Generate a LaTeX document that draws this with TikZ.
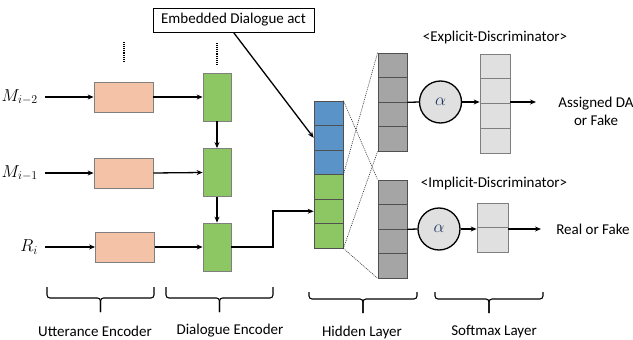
\documentclass[tikz,border=0pt]{standalone}
\usepackage{fontspec}
\setmainfont{Carlito}
\usetikzlibrary{arrows.meta,calc}
\definecolor{pinkf}{HTML}{F4C2A6}
\definecolor{greenf}{HTML}{8CC764}
\definecolor{bluef}{HTML}{5A93C8}
\definecolor{darkg}{HTML}{A6A5A6}
\definecolor{lightg}{HTML}{E0E0E0}
\definecolor{edgeg}{HTML}{7F7F7F}
\definecolor{edged}{HTML}{505050}
\definecolor{alphac}{HTML}{203864}
\tikzset{
  arr/.style={line width=1.3pt,-{Stealth[length=6pt,width=5pt]}},
  plain/.style={line width=1.3pt},
  encbox/.style={draw=edgeg,line width=0.8pt,fill=pinkf,minimum width=59pt,minimum height=30pt,inner sep=0pt},
  dlgbox/.style={draw=edgeg,line width=0.8pt,fill=greenf,minimum width=28pt,minimum height=48pt,inner sep=0pt},
  cell/.style={draw=edged,line width=0.7pt,minimum width=29pt,minimum height=24.5pt,inner sep=0pt},
  alphanode/.style={circle,draw=black,line width=1.3pt,fill=lightg,minimum size=42pt,inner sep=0pt,text=alphac,font=\fontsize{17}{20}\selectfont},
  dots/.style={line width=1.4pt,dash pattern=on 0.9pt off 1pt},
  dotline/.style={line width=0.6pt,dash pattern=on 1pt off 1pt,draw=black!80},
  bracestyle/.style={line width=1.1pt,rounded corners=3pt},
  lbl/.style={inner sep=2pt},
  mlbl/.style={inner sep=3pt,font=\fontsize{18}{20}\selectfont}
}
\def\mybrace#1#2#3#4#5{%
  \pgfmathsetmacro\bcx{(#1+#2)/2}%
  \draw[bracestyle] (#1,#3) |- (\bcx,#4) -- (\bcx,#5);
  \draw[bracestyle] (#2,#3) |- (\bcx,#4) -- (\bcx,#5);}
\begin{document}
\begin{tikzpicture}[x=1pt,y=-1pt,font=\fontsize{15}{18}\selectfont]
\path[use as bounding box] (0,0) rectangle (633,340);

% embedded dialogue act box
\node[draw=black,line width=0.8pt,fill=white,minimum width=161pt,minimum height=24pt,inner sep=0pt] (emb) at (233.5,20) {Embedded Dialogue act};

% input labels
\node[mlbl,anchor=east] (m1) at (41,97) {$M_{i-2}$};
\node[mlbl,anchor=east] (m2) at (41,173) {$M_{i-1}$};
\node[mlbl,anchor=east] (m3) at (41,247) {$R_i$};

% utterance encoders
\node[encbox] (p1) at (123.5,97) {};
\node[encbox] (p2) at (123.5,173) {};
\node[encbox] (p3) at (125,247) {};

% dialogue encoders
\node[dlgbox] (d1) at (217,97) {};
\node[dlgbox] (d2) at (217,172.5) {};
\node[dlgbox] (d3) at (217,247) {};

% vertical dots
\draw[dots] (124,42) -- (124,62);
\draw[dots] (217,43) -- (217,64);

% arrows in encoders
\draw[arr] (m1.east |- p1.west) ++(4,0) -- (p1.west);
\draw[arr] (m2.east |- p2.west) ++(4,0) -- (p2.west);
\draw[arr] (m3.east |- p3.west) ++(4,0) -- (p3.west);
\draw[arr] (p1.east) -- (d1.west);
\draw[arr] (p2.east) -- (d2.west);
\draw[arr] (p3.east) -- (d3.west);
\draw[arr] (d1.south) -- (d2.north);
\draw[arr] (d2.south) -- (d3.north);

% hidden concatenation stack
\foreach \k in {1,2,3} \node[cell,fill=bluef] (h\k) at (328.5,{101+12.25+24.5*(\k-1)}) {};
\foreach \k in {4,5,6} \node[cell,fill=greenf] (h\k) at (328.5,{101+12.25+24.5*(\k-1)}) {};

\draw[arr] (emb.south) -- (h2.west);
\draw[arr,line width=1.6pt] (d3.east) -- (273,247) |- (h5.west);

% hidden layers
\foreach \k in {1,...,4} \node[cell,fill=darkg] (ug\k) at (392.5,{53+12.25+24.5*(\k-1)}) {};
\foreach \k in {1,...,4} \node[cell,fill=darkg] (lg\k) at (392.5,{180+12.25+24.5*(\k-1)}) {};

% dotted projection lines
\draw[dotline] (ug1.north west) -- (h3.south east);
\draw[dotline] (h1.north east) -- (lg1.north west);
\draw[dotline] (ug4.south west) -- (h6.south east);
\draw[dotline] (h6.south east) -- (lg4.south west);

% softmax stacks
\foreach \k in {1,...,4} \node[cell,fill=lightg,draw=edgeg,minimum width=30pt,minimum height=24.75pt] (ul\k) at (495,{54+12.375+24.75*(\k-1)}) {};
\foreach \k in {1,2} \node[cell,fill=lightg,draw=edgeg,minimum width=31pt] (ll\k) at (492.5,{203+12.25+24.5*(\k-1)}) {};

% alpha circles
\node[alphanode] (c1) at (440.5,102) {$\alpha$};
\node[alphanode] (c2) at (439,229) {$\alpha$};

\draw[plain] (ug2.south east) -- (c1.west);
\draw[plain] (lg2.south east) -- (c2.west);
\draw[arr] (c1.east) -- (c1.east -| ul1.west);
\draw[arr] (c2.east) -- (c2.east -| ll1.west);

% outputs
\coordinate (outA) at (536,102);
\coordinate (outB) at (541,229);
\draw[arr] (outA -| ul1.east) -- (outA);
\draw[arr] (outB -| ll1.east) -- (outB);
\node[lbl,align=center] (resA) at (596,111) {Assigned DA\\or Fake};
\node[lbl] (resB) at (593,229) {Real or Fake};

% discriminator titles
\node[lbl] (tExp) at (495,38) {<Explicit-Discriminator>};
\node[lbl] (tImp) at (494,184) {<Implicit-Discriminator>};

% braces and labels
\mybrace{47}{154}{287}{298}{312}
\mybrace{166}{273}{287}{298}{312}
\mybrace{309}{417}{292}{299}{313}
\mybrace{435}{543}{292}{299}{313}
\node[lbl] (bU) at (95,331) {Utterance Encoder};
\node[lbl] (bD) at (230,331) {Dialogue Encoder};
\node[lbl] (bH) at (362,332) {Hidden Layer};
\node[lbl] (bS) at (494,332) {Softmax Layer};
\end{tikzpicture}
\end{document}
